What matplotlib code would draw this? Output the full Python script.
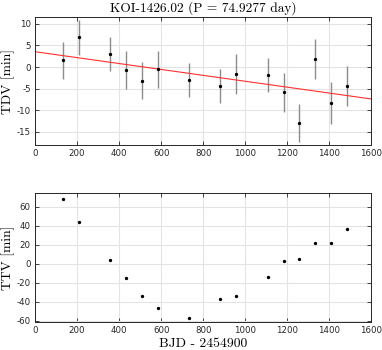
import matplotlib
matplotlib.use("Agg")
import matplotlib.pyplot as plt
import numpy as np

# Data
bjd = [133, 208, 358, 433, 508, 583, 733, 882, 957, 1107, 1182, 1257, 1332, 1407, 1482]
tdv = [1.6, 6.9, 3.0, -0.7, -3.2, -0.5, -3.0, -4.4, -1.6, -1.8, -5.9, -13.0, 1.8, -8.4, -4.4]
tdv_err = [4.3, 4.0, 4.0, 4.5, 4.3, 4.3, 4.0, 4.0, 4.6, 4.0, 4.5, 4.3, 4.6, 4.9, 4.6]
ttv = [67.7, 43.5, 3.5, -15.4, -33.7, -46.3, -56.8, -37.5, -33.7, -14.4, 2.5, 4.6, 21.8, 21.4, 36.8]
fit_intercept = 3.55
fit_slope = -0.00686
title = "KOI-1426.02 (P = 74.9277 day)"
xticks = [0, 200, 400, 600, 800, 1000, 1200, 1400, 1600]
tdv_ticks = [-15, -10, -5, 0, 5, 10]
ttv_ticks = [-60, -40, -20, 0, 20, 40, 60]

plt.rcParams['font.family'] = ['DejaVu Sans']
plt.rcParams['axes.unicode_minus'] = False

fig = plt.figure(figsize=(3.82, 3.5), dpi=100)
ax1 = fig.add_axes([0.0916, 0.5857, 0.9725 - 0.0916, 0.9514 - 0.5857])
ax2 = fig.add_axes([0.0916, 0.0809, 0.9725 - 0.0916, 0.4477 - 0.0809])

serif = dict(family=['cmr10', 'DejaVu Serif'])

def style(ax):
    ax.set_xlim(0, 1600)
    ax.set_xticks(xticks)
    ax.grid(True, color='#e3e3e3', linewidth=0.8)
    ax.set_axisbelow(True)
    ax.tick_params(direction='in', top=True, right=True, length=3, width=0.6,
                   labelsize=6.2, colors='#262626', pad=3)
    for s in ax.spines.values():
        s.set_color('#262626')
        s.set_linewidth(0.7)

# Top: TDV
style(ax1)
ax1.errorbar(bjd, tdv, yerr=tdv_err, fmt='none', ecolor='#8c8c8c', elinewidth=1.0, capsize=0, zorder=2)
ax1.plot(bjd, tdv, 'o', color='black', markersize=1.4, zorder=3)
xl = np.array([0, 1600])
ax1.plot(xl, fit_intercept + fit_slope * xl, color='#ff3030', linewidth=0.8, zorder=2.5)
ax1.set_ylim(-18.1, 11.6)
ax1.set_yticks(tdv_ticks)
ax1.set_ylabel('TDV [min]', fontsize=9.8, labelpad=1, **serif)
ax1.set_title(title, fontsize=9.6, pad=4, **serif)

# Bottom: TTV
style(ax2)
ax2.plot(bjd, ttv, 'o', color='black', markersize=1.4, zorder=3)
ax2.set_ylim(-61, 74)
ax2.set_yticks(ttv_ticks)
ax2.set_ylabel('TTV [min]', fontsize=9.8, labelpad=1, **serif)
ax2.set_xlabel('BJD - 2454900', fontsize=9.8, labelpad=2, **serif)

fig.savefig('out.png', dpi=100)
